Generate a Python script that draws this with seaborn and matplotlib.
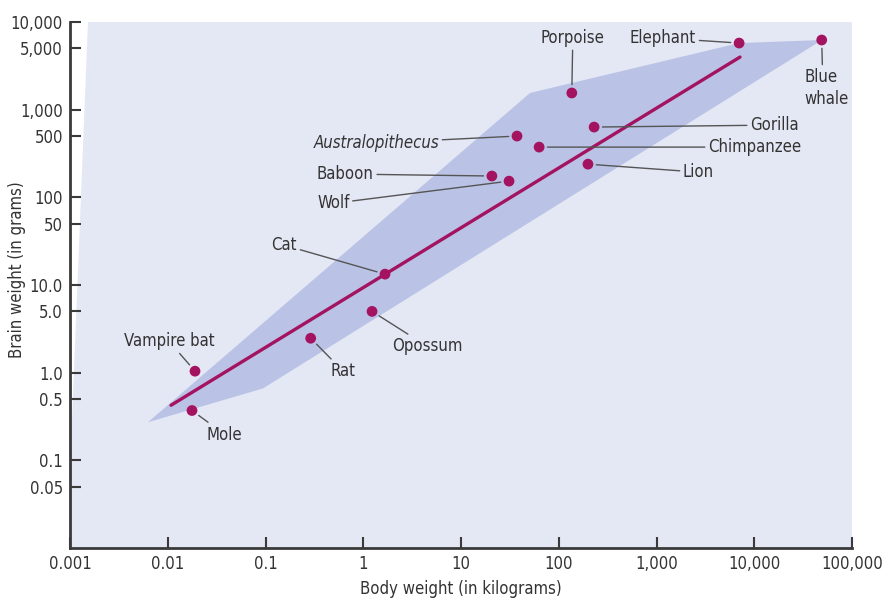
import numpy as np
import pandas as pd
import seaborn as sns
import matplotlib.pyplot as plt
from matplotlib.patches import Polygon

# 動物資料 (體重 kg, 腦重 g)
animals = ['Vampire bat', 'Mole', 'Rat', 'Opossum', 'Cat', 'Wolf', 'Baboon',
           'Australopithecus', 'Chimpanzee', 'Lion', 'Gorilla', 'Porpoise',
           'Elephant', 'Blue\nwhale']
body_kg = [0.019, 0.0177, 0.29, 1.23, 1.67, 31, 20.7, 37.4, 63, 199, 230, 136, 7000, 49000]
brain_g = [1.04, 0.37, 2.47, 5.0, 13.3, 153, 175, 500, 374, 239, 633, 1550, 5750, 6230]

# 迴歸線
fit_x = [0.0108, 7145]
fit_y = [0.425, 3980]

# 陰影帶
band_x = [0.00628, 50.8, 7000, 49300, 0.094]
band_y = [0.272, 1550, 5750, 6230, 0.66]

x_ticks = [0.001, 0.01, 0.1, 1, 10, 100, 1000, 10000, 100000]
x_labels = ['0.001', '0.01', '0.1', '1', '10', '100', '1,000', '10,000', '100,000']
y_ticks = [10000, 5000, 1000, 500, 100, 50, 10, 5, 1, 0.5, 0.1, 0.05]
y_labels = ['10,000', '5,000', '1,000', '500', '100', '50', '10.0', '5.0', '1.0', '0.5', '0.1', '0.05']

df = pd.DataFrame({'animal': animals, 'body': body_kg, 'brain': brain_g})
df_fit = pd.DataFrame({'body': fit_x, 'brain': fit_y})

# 標籤位置 (相對於點的像素偏移, 對齊方式)
label_pos = {
    'Vampire bat': (-26, 30, 'center'),
    'Mole': (15, -24, 'left'),
    'Rat': (20, -33, 'left'),
    'Opossum': (20, -35, 'left'),
    'Cat': (-88, 29, 'right'),
    'Wolf': (-192, -22, 'left'),
    'Baboon': (-175, 2, 'left'),
    'Australopithecus': (-78, -7, 'right'),
    'Chimpanzee': (169, 0, 'left'),
    'Lion': (95, -8, 'left'),
    'Gorilla': (156, 2, 'left'),
    'Porpoise': (1, 55, 'center'),
    'Elephant': (-43, 5, 'right'),
    'Blue\nwhale': (-17, -48, 'left'),
}
# 引線起點 (文字框內的相對位置)
line_start = {'Blue\nwhale': (0.4, 1.0), 'Wolf': (1.0, 0.6)}

sns.set_style('ticks')
plt.rcParams['font.family'] = ['DejaVu Sans']
plt.rcParams['font.stretch'] = 'condensed'
plt.rcParams['font.size'] = 12

dot_color = '#a3135f'
text_color = '#333333'

fig = plt.figure(figsize=(8.82, 6), dpi=100)
ax = fig.add_axes([70 / 882, 1 - 548 / 600, 782 / 882, 526 / 600])
ax.set_xscale('log')
ax.set_yscale('log')
ax.set_xlim(0.001, 100000)
ax.set_ylim(0.01, 10000)

# 背景
bg = Polygon([(0.00153, 10000), (100000, 10000), (100000, 0.01), (0.001, 0.01), (0.001, 0.08)],
             closed=True, facecolor='#e4e7f4', edgecolor='none', zorder=0)
ax.add_patch(bg)
ax.fill(band_x, band_y, color='#bac3e6', lw=0, zorder=1)

sns.lineplot(data=df_fit, x='body', y='brain', color=dot_color, lw=2.4, ax=ax, zorder=3)
sns.scatterplot(data=df, x='body', y='brain', color=dot_color, s=60, edgecolor='none', ax=ax, zorder=4)

for _, row in df.iterrows():
    name = row['animal']
    dx, dy, ha = label_pos[name]
    style = 'italic' if name == 'Australopithecus' else 'normal'
    ax.annotate(name, xy=(row['body'], row['brain']),
                xytext=(dx * 0.72, dy * 0.72), textcoords='offset points',
                ha=ha, va='center', color=text_color, fontstyle=style,
                linespacing=1.3,
                arrowprops=dict(arrowstyle='-', color='#555555', lw=1,
                                shrinkA=0, shrinkB=6,
                                relpos=line_start.get(name, (0.5, 0.5))), zorder=5)

ax.set_xticks(x_ticks)
ax.set_xticklabels(x_labels)
ax.set_yticks(y_ticks)
ax.set_yticklabels(y_labels)
ax.minorticks_off()
ax.tick_params(direction='in', length=8, width=1.5, colors='#3a3a3a', labelcolor=text_color, pad=5)

sns.despine(ax=ax)
for s in ['left', 'bottom']:
    ax.spines[s].set_linewidth(2)
    ax.spines[s].set_color('#3a3a3a')

ax.set_xlabel('Body weight (in kilograms)', color=text_color, labelpad=5)
ax.set_ylabel('Brain weight (in grams)', color=text_color)
ax.yaxis.set_label_coords(-0.056, 0.53)

fig.savefig('out.png', dpi=100)
